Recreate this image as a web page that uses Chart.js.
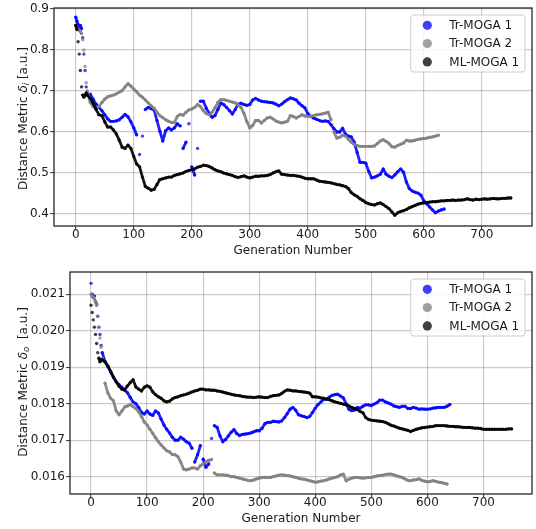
<!DOCTYPE html>
<html><head><meta charset="utf-8">
<script src="https://cdn.jsdelivr.net/npm/chart.js@4.4.1/dist/chart.umd.min.js"></script>
<style>
html,body{margin:0;padding:0;background:#fff;width:536px;height:529px;overflow:hidden}
canvas{position:absolute;left:0}
#c1{top:0}
#c2{top:264px}
</style></head><body>
<canvas id="c1" width="536" height="264"></canvas>
<canvas id="c2" width="536" height="265"></canvas>
<script>
const gens = [0,2,4,6,8,10,12,14,16,18,20,
25,30,35,40,45,50,55,60,65,70,75,80,85,90,95,100,
105,110,115,120,125,130,135,140,145,150,155,160,165,170,175,180,185,190,195,200,
205,210,215,220,225,230,235,240,245,250,255,260,265,270,275,280,285,290,295,300,
305,310,315,320,325,330,335,340,345,350,355,360,365,370,375,380,385,390,395,400,
405,410,415,420,425,430,435,440,445,450,455,460,465,470,475,480,485,490,495,500,
505,510,515,520,525,530,535,540,545,550,555,560,565,570,575,580,585,590,595,600,
605,610,615,620,625,630,635,640,645,650,655,660,665,670,675,680,685,690,695,700,
705,710,715,720,725,730,735,740,745,750];

const seriesLabels = ['Tr-MOGA 1','Tr-MOGA 2','ML-MOGA 1'];
const xTicks = [0,100,200,300,400,500,600,700];
const topYTicks = [0.4,0.5,0.6,0.7,0.8,0.9];
const botYTicks = [0.016,0.017,0.018,0.019,0.020,0.021];
const xTitle = 'Generation Number';

// ---- top panel: distance metric delta_i ----
const topBlue = [0.88,0.87,0.862,0.855,0.86,0.852,0.83,0.79,0.75,0.71,0.69,
0.692,0.68,0.668,0.66,0.652,0.642,0.632,0.626,0.626,0.627,0.63,0.636,0.643,0.637,0.625,0.61,
0.593,0.545,0.59,0.655,0.66,0.657,0.654,0.628,0.602,0.578,0.603,0.61,0.605,0.61,0.62,0.615,0.56,0.575,0.62,0.515,
0.495,0.56,0.675,0.675,0.658,0.645,0.636,0.64,0.655,0.671,0.667,0.66,0.652,0.644,0.655,0.668,0.67,0.667,0.665,0.667,
0.678,0.682,0.678,0.675,0.674,0.673,0.672,0.671,0.668,0.664,0.668,0.674,0.679,0.683,0.681,0.678,0.67,0.664,0.659,0.645,
0.638,0.634,0.631,0.628,0.626,0.627,0.626,0.618,0.608,0.6,0.6,0.609,0.595,0.59,0.588,0.575,0.55,0.526,0.526,0.524,
0.504,0.488,0.49,0.493,0.497,0.51,0.497,0.492,0.489,0.495,0.503,0.51,0.502,0.478,0.462,0.456,0.453,0.451,0.446,0.432,
0.425,0.417,0.41,0.403,0.407,0.41,0.412];
const topGray = [0.86,0.855,0.85,0.848,0.845,0.84,0.825,0.80,0.76,0.72,0.70,
0.672,0.662,0.658,0.662,0.672,0.68,0.686,0.688,0.69,0.693,0.697,0.701,0.71,0.718,0.712,0.705,
0.698,0.69,0.685,0.678,0.671,0.664,0.658,0.648,0.64,0.635,0.63,0.626,0.623,0.623,0.638,0.643,0.641,0.648,0.654,0.656,
0.66,0.667,0.662,0.652,0.645,0.642,0.648,0.659,0.672,0.679,0.679,0.677,0.675,0.673,0.671,0.666,0.66,0.645,0.625,0.61,
0.616,0.628,0.628,0.622,0.628,0.634,0.636,0.632,0.627,0.624,0.622,0.624,0.626,0.64,0.638,0.634,0.638,0.642,0.639,0.638,
0.638,0.64,0.642,0.643,0.644,0.646,0.648,0.63,0.6,0.585,0.587,0.592,0.59,0.582,0.575,0.57,0.567,0.565,0.565,0.565,
0.565,0.565,0.566,0.572,0.578,0.581,0.577,0.572,0.564,0.563,0.567,0.57,0.573,0.58,0.578,0.578,0.58,0.582,0.583,0.584,
0.585,0.587,0.588,0.59,0.592];
const topBlack = [0.86,0.85,0.82,0.79,0.75,0.71,0.69,0.685,0.69,0.695,0.69,
0.682,0.67,0.655,0.642,0.64,0.625,0.612,0.612,0.605,0.595,0.58,0.563,0.56,0.568,0.56,0.54,
0.522,0.515,0.49,0.467,0.463,0.458,0.46,0.472,0.484,0.486,0.488,0.49,0.49,0.494,0.496,0.498,0.5,0.504,0.506,0.508,
0.51,0.514,0.516,0.519,0.518,0.516,0.512,0.508,0.505,0.503,0.5,0.498,0.496,0.494,0.491,0.489,0.491,0.493,0.49,0.488,
0.49,0.492,0.492,0.493,0.493,0.494,0.496,0.5,0.503,0.505,0.497,0.496,0.495,0.494,0.494,0.493,0.492,0.49,0.487,0.486,
0.486,0.486,0.483,0.48,0.479,0.478,0.477,0.476,0.474,0.472,0.471,0.469,0.467,0.462,0.452,0.447,0.443,0.437,0.433,0.428,
0.425,0.423,0.422,0.425,0.427,0.423,0.418,0.413,0.405,0.397,0.403,0.406,0.408,0.411,0.415,0.418,0.421,0.424,0.426,0.427,
0.428,0.429,0.43,0.43,0.431,0.432,0.432,0.433,0.433,0.434,0.433,0.434,0.434,0.435,0.437,0.435,0.434,0.436,0.435,0.436,
0.437,0.436,0.437,0.438,0.437,0.437,0.438,0.438,0.439,0.439];

// ---- bottom panel: distance metric delta_o ----
const botBlue = [0.0213,0.021,0.02092,0.02095,0.0208,0.02072,0.0204,0.0201,0.0199,0.0196,0.0194,
0.01915,0.01903,0.01888,0.01872,0.0186,0.01852,0.01845,0.01837,0.0183,0.01817,0.01805,0.018,0.0179,0.01776,0.01772,0.0178,
0.01772,0.01768,0.0178,0.01775,0.01758,0.01742,0.0173,0.0172,0.01708,0.017,0.017,0.01708,0.01703,0.01696,0.01692,0.01678,0.0164,0.0166,0.01685,0.01648,
0.01626,0.01635,0.01705,0.0174,0.01735,0.01712,0.01696,0.01702,0.01712,0.01722,0.01729,0.01718,0.01713,0.01716,0.01717,0.01718,0.0172,0.01723,0.01726,0.01726,
0.01733,0.01745,0.01749,0.01749,0.01752,0.01751,0.0175,0.01753,0.01762,0.01773,0.01785,0.0179,0.01782,0.0177,0.01767,0.01765,0.01762,0.01765,0.01776,0.01788,
0.01798,0.01805,0.01812,0.01812,0.01818,0.01823,0.01825,0.01826,0.01821,0.01816,0.018,0.01785,0.01781,0.01783,0.0179,0.01788,0.01793,0.01797,0.01797,0.01795,
0.01799,0.01803,0.0181,0.0181,0.01805,0.01802,0.01799,0.01794,0.01792,0.0179,0.01793,0.01793,0.01787,0.01787,0.0179,0.01788,0.01785,0.01786,0.01785,0.01785,
0.01786,0.01788,0.01789,0.0179,0.0179,0.0179,0.01793,0.01798];
const botGray = [0.021,0.02095,0.02093,0.02087,0.0208,0.0207,0.0204,0.0201,0.0198,0.01955,0.01925,
0.01856,0.0183,0.01815,0.01808,0.0178,0.0177,0.0178,0.01791,0.01794,0.01798,0.01792,0.01787,0.01778,0.01765,0.0175,0.01742,
0.0173,0.01719,0.01707,0.01696,0.01687,0.01679,0.01671,0.01668,0.01661,0.0166,0.01655,0.0164,0.01621,0.01619,0.01621,0.01624,0.01624,0.01621,0.0163,0.01635,
0.01641,0.01645,0.01647,0.0161,0.01605,0.01605,0.01605,0.01604,0.01603,0.016,0.016,0.01598,0.01596,0.01594,0.01592,0.0159,0.01589,0.01591,0.01594,0.01596,
0.01598,0.01598,0.01598,0.01598,0.016,0.01602,0.01604,0.01605,0.01604,0.01603,0.01602,0.016,0.01598,0.01596,0.01594,0.01593,0.01591,0.01589,0.01587,0.01585,
0.01586,0.01588,0.01589,0.01591,0.01594,0.01596,0.01598,0.016,0.01605,0.01607,0.01589,0.01593,0.01596,0.01598,0.01598,0.01597,0.01596,0.01597,0.01598,0.01598,
0.016,0.01602,0.01603,0.01604,0.01606,0.01607,0.01607,0.01605,0.01602,0.016,0.01598,0.01594,0.0159,0.01589,0.01591,0.01592,0.01594,0.0159,0.01588,0.01586,
0.01587,0.01589,0.01587,0.01585,0.01584,0.01582,0.0158];
const botBlack = [0.0207,0.0205,0.0203,0.0201,0.0199,0.01965,0.0194,0.01925,0.01915,0.0192,0.0192,
0.01915,0.01903,0.01888,0.01873,0.0186,0.01848,0.0184,0.01838,0.01849,0.01858,0.01866,0.01846,0.0184,0.01835,0.01845,0.01849,
0.01845,0.01833,0.01825,0.01819,0.01815,0.01808,0.01805,0.01807,0.01813,0.01817,0.01819,0.01822,0.01824,0.01826,0.01829,0.01832,0.01835,0.01837,0.0184,0.0184,
0.01838,0.01838,0.01837,0.01837,0.01835,0.01834,0.01832,0.0183,0.01828,0.01826,0.01824,0.01823,0.01822,0.0182,0.01819,0.01818,0.01818,0.01817,0.01818,0.01819,
0.01818,0.01817,0.01817,0.0182,0.01822,0.01823,0.01824,0.01828,0.01834,0.01838,0.01837,0.01835,0.01835,0.01834,0.01833,0.01832,0.01831,0.01829,0.01819,0.01819,
0.01818,0.01816,0.01815,0.01813,0.01811,0.01808,0.01805,0.01803,0.01801,0.01799,0.01797,0.01794,0.0179,0.01787,0.01784,0.01779,0.01775,0.01762,0.01757,0.01755,
0.01754,0.01753,0.01752,0.01751,0.01749,0.01745,0.01741,0.01739,0.01736,0.01733,0.01731,0.01729,0.01727,0.01724,0.01727,0.0173,0.01732,0.01734,0.01735,0.01736,
0.01737,0.01738,0.0174,0.0174,0.0174,0.0174,0.01739,0.01738,0.01738,0.01737,0.01737,0.01736,0.01735,0.01735,0.01735,0.01734,0.01733,0.01733,0.01732,0.0173,
0.0173,0.0173,0.0173,0.0173,0.0173,0.0173,0.0173,0.0173,0.01731,0.01731];

const COLORS = ['rgba(0,0,255,0.75)','rgba(128,128,128,0.75)','rgba(0,0,0,0.75)'];
const BAND = ['rgba(0,0,255,0.88)','rgba(128,128,128,0.9)','rgba(0,0,0,0.9)'];
const FONT = "'DejaVu Sans', 'Liberation Sans', sans-serif";
const GRID = 'rgba(0,0,0,0.2)';

function pts(vals){
  const out = [];
  vals.forEach((v,i) => { if (v != null) out.push({x: gens[i], y: v}); });
  return out;
}

// hide the connecting band where successive readings are steep or far apart on screen
function segColor(ctx){
  const dx = Math.abs(ctx.p1.x - ctx.p0.x), dy = Math.abs(ctx.p1.y - ctx.p0.y);
  return (dy > 4.5 * dx || Math.hypot(dx, dy) > 12) ? 'rgba(0,0,0,0)' : undefined;
}

function roundRect(ctx, x, y, w, h, r){
  ctx.beginPath();
  ctx.moveTo(x+r, y); ctx.lineTo(x+w-r, y); ctx.arcTo(x+w, y, x+w, y+r, r);
  ctx.lineTo(x+w, y+h-r); ctx.arcTo(x+w, y+h, x+w-r, y+h, r);
  ctx.lineTo(x+r, y+h); ctx.arcTo(x, y+h, x, y+h-r, r);
  ctx.lineTo(x, y+r); ctx.arcTo(x, y, x+r, y, r);
  ctx.closePath();
}

const decoPlugin = {
  id: 'deco',
  afterDatasetsDraw(chart){
    const ctx = chart.ctx, a = chart.chartArea;
    const w = 114.3, h = 57, bx = a.right - 7 - w, by = a.top + 7;
    ctx.save();
    roundRect(ctx, bx, by, w, h, 3);
    ctx.fillStyle = 'rgba(255,255,255,0.8)';
    ctx.fill();
    ctx.strokeStyle = '#cccccc';
    ctx.lineWidth = 1;
    ctx.stroke();
    ctx.font = '12px ' + FONT;
    ctx.textBaseline = 'middle';
    ctx.textAlign = 'left';
    chart.data.datasets.forEach((ds, i) => {
      const cy = by + 10.3 + i * 18.3;
      ctx.beginPath();
      ctx.arc(bx + 16.6, cy, 4.6, 0, Math.PI * 2);
      ctx.fillStyle = ds.backgroundColor;
      ctx.fill();
      ctx.fillStyle = '#1a1a1a';
      ctx.fillText(ds.label, bx + 38.6, cy + 0.5);
    });
    ctx.restore();
  },
  afterDraw(chart, args, opts){
    const ctx = chart.ctx, a = chart.chartArea;
    ctx.save();
    ctx.strokeStyle = '#262626';
    ctx.lineWidth = 1.3;
    ctx.strokeRect(a.left, a.top, a.right - a.left, a.bottom - a.top);
    ctx.fillStyle = '#1a1a1a';
    ctx.font = '12px ' + FONT;
    ctx.textAlign = 'center';
    ctx.textBaseline = 'alphabetic';
    ctx.fillText(xTitle, (a.left + a.right) / 2, a.bottom + 27.5);
    const parts = [
      ['Distance Metric ', '12px ' + FONT, 0],
      ['\u03b4', 'italic 12px ' + FONT, 0],
      [opts.sub, 'italic 8.5px ' + FONT, 2.6],
      [opts.gap + '[a.u.]', '12px ' + FONT, 0]
    ];
    ctx.translate(22, opts.yStart);
    ctx.rotate(-Math.PI / 2);
    ctx.textAlign = 'left';
    let x = 0;
    parts.forEach(([t, f, dy]) => {
      ctx.font = f;
      ctx.fillText(t, x, 4.5 + dy);
      x += ctx.measureText(t).width;
    });
    ctx.restore();
  }
};

function makeChart(id, blue, gray, black, yTicks, yMin, yMax, yAxisW, xAxisH, dec, sub, gap, yStart){
  const series = [blue, gray, black];
  return new Chart(document.getElementById(id), {
    type: 'scatter',
    data: { datasets: series.map((vals, i) => ({
      label: seriesLabels[i], data: pts(vals),
      backgroundColor: COLORS[i], borderColor: BAND[i],
      pointBackgroundColor: COLORS[i], pointBorderWidth: 0, pointRadius: 1.7, pointHoverRadius: 1.7,
      showLine: true, borderWidth: 2.8, borderJoinStyle: 'round', borderCapStyle: 'round',
      segment: { borderColor: segColor },
      order: 2 - i
    }))},
    options: {
      responsive: false, animation: false, devicePixelRatio: 1, events: [],
      layout: { padding: { top: 8, right: 4, left: 0, bottom: 0 } },
      plugins: { legend: { display: false }, tooltip: { enabled: false },
                 deco: { sub: sub, gap: gap, yStart: yStart } },
      scales: {
        x: {
          type: 'linear', min: -37.5, max: 786.5,
          afterBuildTicks(s){ s.ticks = xTicks.map(v => ({ value: v })); },
          afterFit(s){ s.height = xAxisH; },
          border: { display: false },
          grid: { color: GRID, lineWidth: 1.2, tickColor: '#333', tickLength: 4, tickWidth: 1 },
          ticks: { font: { family: FONT, size: 12, lineHeight: 1 }, color: '#1a1a1a', padding: -1,
                   maxRotation: 0, autoSkip: false, callback: v => String(v) }
        },
        y: {
          type: 'linear', min: yMin, max: yMax,
          afterBuildTicks(s){ s.ticks = yTicks.map(v => ({ value: v })); },
          afterFit(s){ s.width = yAxisW; },
          border: { display: false },
          grid: { color: GRID, lineWidth: 1.2, tickColor: '#333', tickLength: 4, tickWidth: 1 },
          ticks: { font: { family: FONT, size: 12, lineHeight: 1 }, color: '#1a1a1a', padding: 1,
                   autoSkip: false, callback: v => v.toFixed(dec) }
        }
      }
    },
    plugins: [decoPlugin]
  });
}

makeChart('c1', topBlue, topGray, topBlack, topYTicks, 0.3707, 0.9024, 54, 38, 1, 'i', ' ', 190);
makeChart('c2', botBlue, botGray, botBlack, botYTicks, 0.015526, 0.021611, 70, 35, 3, 'o', '  ', 192.7);
</script>
</body></html>
